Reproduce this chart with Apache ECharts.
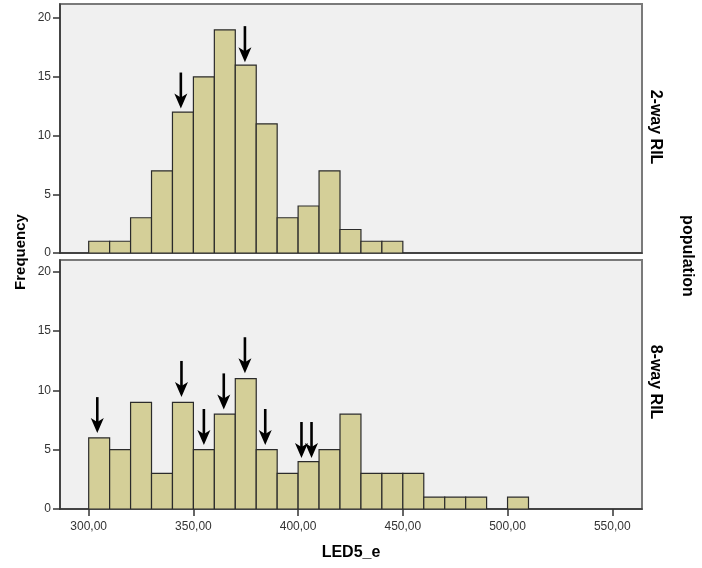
<!DOCTYPE html>
<html>
<head>
<meta charset="utf-8">
<script src="https://cdn.jsdelivr.net/npm/echarts@6/dist/echarts.min.js"></script>
<style>html,body{margin:0;padding:0;background:#fff;}#c{width:702px;height:568px;}</style>
</head>
<body>
<div id="c"></div>
<script>
// Histogram bins (left edges, width 10)
var binStarts = [300,310,320,330,340,350,360,370,380,390,400,410,420,430,440,450,460,470,480,490,500];
var binWidth = 10;
var freq2way = [1,1,3,7,12,15,19,16,11,3,4,7,2,1,1,0,0,0,0,0,0];
var freq8way = [6,5,9,3,9,5,8,11,5,3,4,5,8,3,3,3,1,1,1,0,1];
// Arrows: x position and tip height (frequency units)
var arrows2wayX = [344, 374.6];
var arrows2wayY = [12.3, 16.25];
var arrows8wayX = [304.1, 344.3, 355, 364.5, 374.6, 384.3, 401.6, 406.4];
var arrows8wayY = [6.4, 9.45, 5.4, 8.4, 11.45, 5.4, 4.3, 4.3];
var xTicks = [300, 350, 400, 450, 500, 550];
var yTicks = [0, 5, 10, 15, 20];
var panelNames = ['2-way RIL', '8-way RIL'];

function fmtX(v){ return v.toFixed(2).replace('.', ','); }

function barData(vals){
  var out = [];
  for (var i = 0; i < binStarts.length; i++) {
    if (vals[i] > 0) out.push([binStarts[i], binStarts[i] + binWidth, vals[i]]);
  }
  return out;
}
function arrowData(xs, ys){
  return xs.map(function(x, i){ return [x, ys[i]]; });
}

function renderBar(params, api){
  var p0 = api.coord([api.value(0), api.value(2)]);
  var p1 = api.coord([api.value(1), 0]);
  return {
    type: 'rect',
    shape: {x: p0[0], y: p0[1], width: p1[0] - p0[0], height: p1[1] - p0[1]},
    style: {fill: '#d4cf98', stroke: '#2b2b2b', lineWidth: 1.2}
  };
}
function renderArrow(params, api){
  var p = api.coord([api.value(0), api.value(1)]);
  var x = p[0], y = p[1];
  return {
    type: 'group',
    children: [
      {type: 'line', shape: {x1: x, y1: y - 36, x2: x, y2: y - 10}, style: {stroke: '#000', lineWidth: 2.6}},
      {type: 'polygon', shape: {points: [[x, y], [x - 6.5, y - 15], [x, y - 11], [x + 6.5, y - 15]]}, style: {fill: '#000'}}
    ]
  };
}

var FF = 'Liberation Sans, Arial, sans-serif';
var labelFont = {color: '#333', fontSize: 12, fontFamily: FF};
var grids = [
  {left: 60, top: 4, width: 582, height: 249},
  {left: 60, top: 260, width: 582, height: 249}
];
grids.forEach(function(g){ g.show = true; g.backgroundColor = '#f0f0f0'; g.borderColor = '#7a7a7a'; g.borderWidth = 2; });

function xAxis(idx){
  return {
    type: 'value', gridIndex: idx, min: 286.3, max: 564.2,
    splitLine: {show: false},
    axisLine: {show: true, onZero: false, lineStyle: {color: '#333', width: 1.5}},
    axisTick: {show: idx === 1, length: 7, customValues: xTicks, lineStyle: {color: '#333', width: 1.5}},
    axisLabel: Object.assign({show: idx === 1, margin: 12, customValues: xTicks, formatter: fmtX}, labelFont),
    name: idx === 1 ? 'LED5_e' : '',
    nameLocation: 'middle', nameGap: 36,
    nameTextStyle: {color: '#000', fontWeight: 'bold', fontSize: 16, fontFamily: FF}
  };
}
function yAxis(idx){
  return {
    type: 'value', gridIndex: idx, min: 0, max: idx === 0 ? 21.2 : 21.0,
    splitLine: {show: false},
    axisLine: {show: true, lineStyle: {color: '#333', width: 1.5}},
    axisTick: {show: true, length: 7, customValues: yTicks, lineStyle: {color: '#333', width: 1.5}},
    axisLabel: Object.assign({margin: 9, customValues: yTicks}, labelFont)
  };
}

var chart = echarts.init(document.getElementById('c'), null, {renderer: 'canvas'});
function boldText(size){ return {fill: '#000', fontWeight: 'bold', fontSize: size, fontFamily: FF, textAlign: 'center', textVerticalAlign: 'middle'}; }
chart.setOption({
  animation: false,
  backgroundColor: '#fff',
  grid: grids,
  xAxis: [xAxis(0), xAxis(1)],
  yAxis: [yAxis(0), yAxis(1)],
  series: [
    {type: 'custom', name: panelNames[0], xAxisIndex: 0, yAxisIndex: 0, renderItem: renderBar, data: barData(freq2way), clip: true},
    {type: 'custom', name: panelNames[1], xAxisIndex: 1, yAxisIndex: 1, renderItem: renderBar, data: barData(freq8way), clip: true},
    {type: 'custom', xAxisIndex: 0, yAxisIndex: 0, renderItem: renderArrow, data: arrowData(arrows2wayX, arrows2wayY), z: 5},
    {type: 'custom', xAxisIndex: 1, yAxisIndex: 1, renderItem: renderArrow, data: arrowData(arrows8wayX, arrows8wayY), z: 5}
  ],
  graphic: [
    {type: 'text', x: 21, y: 252, rotation: Math.PI / 2, style: Object.assign({text: 'Frequency'}, boldText(15))},
    {type: 'text', x: 655, y: 127, rotation: -Math.PI / 2, style: Object.assign({text: panelNames[0]}, boldText(16))},
    {type: 'text', x: 655, y: 382, rotation: -Math.PI / 2, style: Object.assign({text: panelNames[1]}, boldText(16))},
    {type: 'text', x: 687, y: 256, rotation: -Math.PI / 2, style: Object.assign({text: 'population'}, boldText(16))}
  ]
});
</script>
</body>
</html>
